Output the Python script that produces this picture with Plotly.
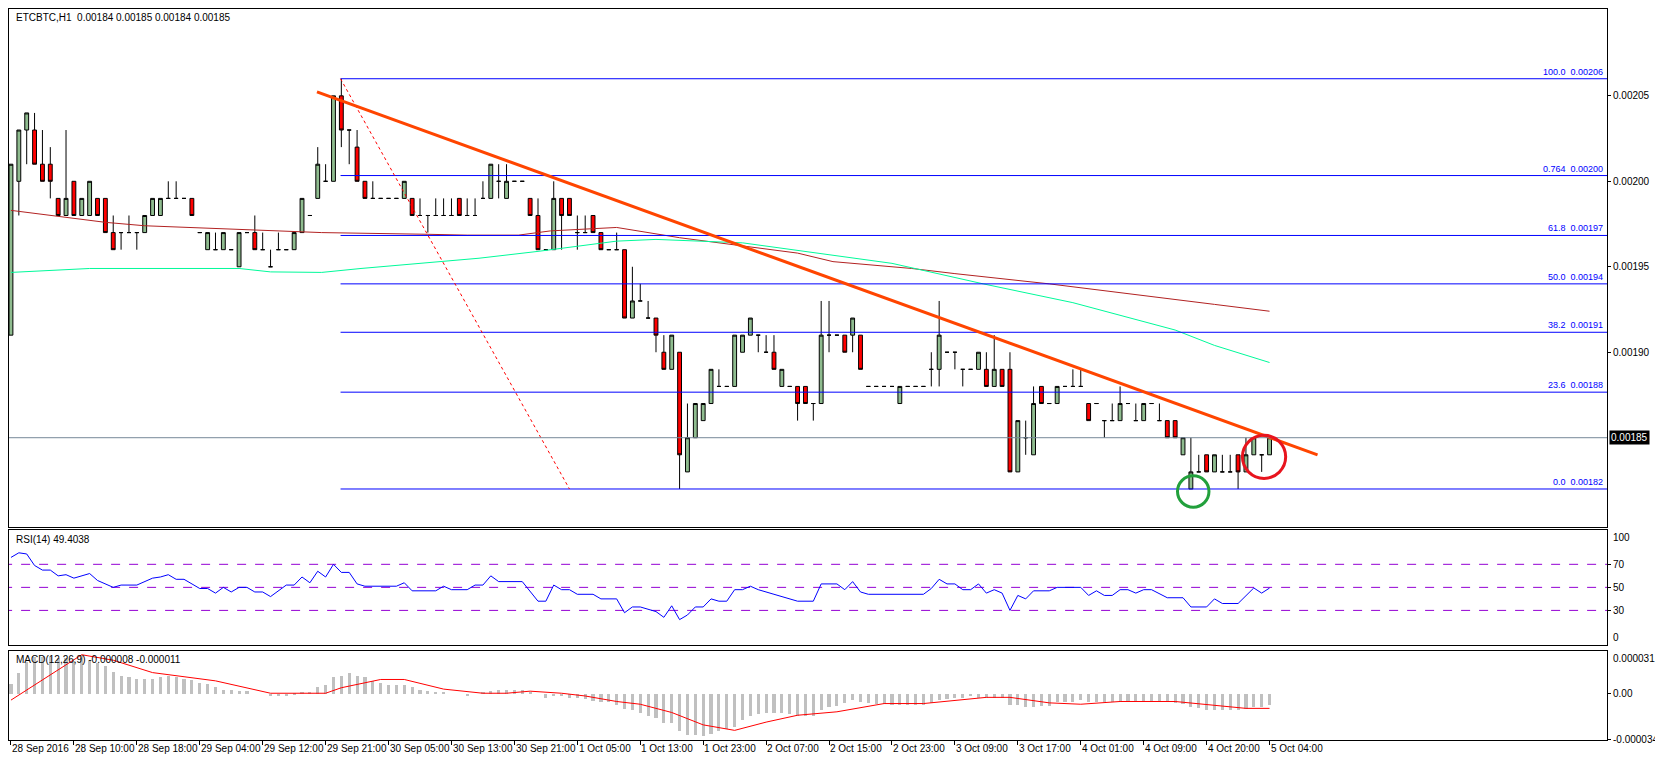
import plotly.graph_objects as go
from plotly.subplots import make_subplots

U = 1e-5  # prices below are in units of 0.00001 BTC

opens = [191, 200, 203, 203, 201, 201, 199, 198, 200, 198, 198, 199, 199, 197, 197, 197, 197, 197, 198, 198,
         199, 199, 199, 199, 197, 196, 196, 196, 196, 195, 197, 197, 196, 195, 196, 196, 196, 197, 198, 199,
         200, 200, 205, 203, 202, 200, 199, 199, 199, 199, 199, 199, 198, 198, 198, 198, 198, 199, 198, 198,
         199, 199, 200, 199, 200, 200, 199, 198, 196, 196, 199, 199, 197, 197, 198, 197, 196, 196, 196, 192,
         193, 192, 192, 190, 189, 190, 183, 185, 186, 187, 188, 188, 188, 190, 191, 191, 190, 190, 188, 188,
         188, 188, 187, 187, 191, 191, 191, 191, 191, 188, 188, 188, 188, 187, 188, 188, 188, 189, 189, 190,
         190, 189, 189, 189, 189, 188, 189, 189, 183, 185, 184, 188, 187, 187, 188, 188, 188, 187, 187, 186,
         186, 186, 187, 186, 186, 187, 186, 186, 186, 184, 182, 183, 184, 183, 183, 183, 184, 183, 184, 184,
         184]
highs = [201, 203, 204, 204, 203, 202, 199, 203, 200, 199, 200, 199, 199, 198, 197, 198, 197, 198, 199, 199,
         200, 200, 199, 199, 197, 197, 197, 197, 196, 197, 197, 198, 197, 196, 197, 196, 197, 199, 198, 202,
         201, 205, 206, 203, 203, 200, 200, 199, 199, 199, 200, 199, 199, 198, 199, 199, 199, 199, 199, 199,
         200, 201, 201, 201, 200, 200, 199, 199, 196, 200, 199, 199, 198, 198, 198, 197, 196, 197, 196, 195,
         194, 193, 192, 191, 191, 190, 187, 187, 187, 189, 189, 188, 191, 191, 192, 191, 191, 191, 189, 188,
         188, 188, 187, 193, 193, 191, 191, 192, 191, 188, 188, 188, 188, 188, 188, 188, 188, 190, 193, 190,
         190, 189, 189, 190, 190, 191, 189, 190, 186, 186, 188, 188, 187, 188, 188, 189, 189, 187, 187, 186,
         187, 188, 187, 187, 187, 187, 187, 186, 186, 185, 185, 184, 184, 184, 184, 184, 184, 185, 185, 184,
         185]
lows = [191, 198, 201, 201, 200, 199, 198, 198, 198, 198, 198, 198, 197, 196, 196, 197, 196, 197, 198, 198,
        199, 199, 199, 198, 197, 196, 196, 196, 196, 195, 197, 196, 196, 195, 196, 196, 196, 197, 198, 199,
        200, 200, 202, 201, 200, 199, 199, 199, 199, 199, 199, 198, 198, 197, 198, 198, 198, 198, 198, 198,
        199, 199, 199, 199, 200, 200, 198, 196, 196, 196, 196, 198, 196, 197, 197, 196, 196, 196, 192, 192,
        193, 192, 190, 189, 189, 182, 183, 185, 186, 187, 188, 188, 188, 190, 191, 190, 190, 189, 188, 188,
        186, 187, 186, 187, 190, 191, 190, 190, 189, 188, 188, 188, 188, 187, 188, 188, 188, 188, 188, 190,
        189, 188, 189, 189, 188, 188, 188, 183, 183, 184, 184, 187, 187, 187, 188, 188, 188, 186, 187, 185,
        186, 186, 187, 186, 186, 187, 186, 185, 185, 184, 182, 183, 183, 183, 183, 183, 182, 183, 184, 183,
        184]
closes = [201, 203, 204, 201, 200, 200, 198, 199, 198, 199, 200, 198, 197, 196, 197, 197, 197, 198, 199, 199,
          199, 199, 199, 198, 197, 197, 196, 197, 196, 197, 197, 196, 196, 195, 196, 196, 197, 199, 198, 201,
          200, 205, 203, 203, 200, 199, 199, 199, 199, 199, 200, 198, 198, 198, 198, 198, 198, 198, 198, 198,
          199, 201, 200, 200, 200, 200, 198, 196, 196, 199, 198, 198, 197, 197, 197, 196, 196, 196, 192, 193,
          193, 192, 191, 189, 191, 184, 185, 187, 187, 189, 188, 188, 191, 191, 192, 191, 190, 189, 189, 188,
          187, 187, 187, 191, 191, 191, 190, 192, 189, 188, 188, 188, 188, 188, 188, 188, 188, 189, 191, 190,
          190, 189, 189, 190, 188, 189, 188, 183, 186, 185, 187, 187, 187, 188, 188, 188, 188, 186, 187, 186,
          186, 187, 187, 186, 187, 187, 186, 185, 185, 185, 183, 183, 183, 184, 183, 183, 183, 184, 185, 184,
          185]

time_labels = ["28 Sep 2016", "28 Sep 10:00", "28 Sep 18:00", "29 Sep 04:00", "29 Sep 12:00", "29 Sep 21:00",
               "30 Sep 05:00", "30 Sep 13:00", "30 Sep 21:00", "1 Oct 05:00", "1 Oct 13:00", "1 Oct 23:00",
               "2 Oct 07:00", "2 Oct 15:00", "2 Oct 23:00", "3 Oct 09:00", "3 Oct 17:00", "4 Oct 01:00",
               "4 Oct 09:00", "4 Oct 20:00", "5 Oct 04:00"]

# moving averages (vertices)
ma_red_x = [0, 12, 17, 29, 39.5, 53, 58, 64.5, 68.6, 77, 85, 100, 104.5, 114.5, 120, 132, 141, 153, 160]
ma_red_y = [198.3, 197.6, 197.4, 197.2, 197.0, 196.9, 196.85, 196.85, 197.1, 197.3, 196.7, 195.8, 195.3,
            194.9, 194.6, 194.0, 193.5, 192.8, 192.4]
ma_green_x = [0, 5, 10, 29, 33, 39.5, 44.5, 52, 59.5, 67, 72, 77, 82, 93, 112, 123.6, 135, 148, 153, 160]
ma_green_y = [194.67, 194.8, 194.9, 194.9, 194.7, 194.67, 194.9, 195.2, 195.5, 195.9, 196.2, 196.5, 196.6,
              196.4, 195.2, 194.0, 192.9, 191.3, 190.4, 189.4]

fib_names = ["100.0", "0.764", "61.8", "50.0", "38.2", "23.6", "0.0"]
fib_ratio = [1.0, 0.764, 0.618, 0.5, 0.382, 0.236, 0.0]
fib_low, fib_high = 182, 206

rsi_x = [0, 1, 2, 3, 4, 5, 6, 7, 8, 10, 11, 13, 14, 16, 18, 19, 20, 21, 22, 24, 25, 26, 27, 28, 29, 30, 31, 32,
         33, 35, 36, 37, 38, 39, 40, 41, 42, 43, 44, 45, 49, 50, 51, 54, 55, 56, 58, 59, 60, 61, 62, 65, 67, 68,
         69, 70, 71, 72, 74, 75, 77, 78, 79, 80, 82, 83, 84, 85, 86, 87, 88, 89, 90, 91, 92, 93, 94, 95, 97, 98,
         100, 102, 103, 105, 106, 107, 108, 109, 116, 117, 118, 119, 120, 121, 122, 123, 124, 125, 126, 127,
         128, 129, 130, 132, 133, 136, 137, 138, 139, 140, 141, 142, 143, 144, 145, 147, 149, 150, 152, 153,
         154, 156, 157, 158, 159, 160]
rsi_y = [76, 80, 79, 69, 65, 65, 60, 61, 58, 62, 56, 50, 52, 52, 58, 59, 61, 57, 57, 49, 49, 45, 50, 46, 50, 50,
         46, 46, 42, 52, 52, 59, 54, 64, 59, 70, 63, 63, 53, 51, 51, 54, 47, 47, 51, 48, 48, 52, 52, 60, 55, 55,
         38, 38, 52, 48, 48, 44, 44, 40, 40, 28, 33, 33, 29, 24, 34, 22, 26, 33, 33, 40, 38, 38, 48, 48, 51, 48,
         44, 42, 38, 38, 53, 53, 48, 55, 46, 44, 44, 49, 57, 53, 53, 48, 48, 53, 45, 48, 45, 30, 43, 40, 47, 47,
         50, 50, 43, 47, 43, 43, 48, 48, 45, 48, 48, 41, 41, 33, 33, 40, 36, 36, 43, 49.5, 45, 49.4038]

# MACD main (histogram) and signal, in units of 1e-6
macd_hist = [7, 15, 23, 27, 27, 27, 26, 26, 24, 28, 24, 22, 20, 16, 13, 12, 11, 11, 11, 12,
             13, 12, 11, 10, 8, 7, 5, 3, 3, 2, 2, 0, 0, -2, -2, -2, -1, 1, 1, 5,
             6, 12, 13, 15, 13, 12, 9, 8, 6.5, 6, 6.5, 5, 3, 2, 1.5, 1, 0, 0, -1.5, 0,
             1.5, 2, 3, 3, 3, 3, 1.5, 0, -3, -2, -2, -3, -3, -4, -5, -6, -6, -8, -11, -12,
             -14, -16, -18, -21, -21, -27, -30, -30, -31, -29, -27, -26, -24, -19, -16, -15, -14, -14, -14, -15,
             -16, -16, -16, -12, -10, -9, -7, -4.5, -6, -7, -7.5, -7.5, -8, -8, -8, -8, -8, -7, -4.5, -4,
             -3, -3, -2, -3, -3, -3, -3, -8.5, -8.5, -10, -10, -9, -9, -6, -6, -6, -4.5, -6, -6, -6,
             -6, -6, -6, -6, -6, -6, -6, -6, -7, -7.5, -9.5, -10.5, -12, -12, -12, -12, -12, -11, -10, -9.5, -8]
sig_x = [0, 8, 9, 13, 18, 22, 26, 33, 36, 40, 42, 47, 50, 55, 60, 63, 66, 70, 73, 77, 80, 84, 88, 92, 96, 100,
         105, 111, 116, 124, 127, 132, 136, 141, 148, 153, 155, 157, 160]
sig_y = [-5, 24, 28, 24, 15, 12, 9, 0, 0, 0, 4, 10, 10, 3, 0, 0, 1.5, 0, -2, -6, -8, -14, -23, -27, -21, -16,
         -13.5, -7.5, -7.5, -3, -3, -7, -8, -6, -6, -9, -10, -11, -11]

bars = list(range(len(closes)))
FONT = "Liberation Sans"

fig = make_subplots(rows=3, cols=1, shared_xaxes=True, vertical_spacing=0.004)

fig.add_trace(go.Candlestick(
    x=bars, open=[v * U for v in opens], high=[v * U for v in highs],
    low=[v * U for v in lows], close=[v * U for v in closes],
    increasing=dict(fillcolor="#8FBC8F", line=dict(color="black", width=1)),
    decreasing=dict(fillcolor="#FF0000", line=dict(color="black", width=1)),
    whiskerwidth=0, hoverinfo="skip"), row=1, col=1)

fig.add_trace(go.Scatter(x=ma_red_x, y=[v * U for v in ma_red_y], mode="lines",
                         line=dict(color="#B22222", width=1)), row=1, col=1)
fig.add_trace(go.Scatter(x=ma_green_x, y=[v * U for v in ma_green_y], mode="lines",
                         line=dict(color="#00FA9A", width=1)), row=1, col=1)

XMAX = 202.9
# fibonacci levels
for name, r in zip(fib_names, fib_ratio):
    lvl = (fib_low + r * (fib_high - fib_low)) * U
    fig.add_trace(go.Scatter(x=[41.9, XMAX], y=[lvl, lvl], mode="lines",
                             line=dict(color="#0000FF", width=1)), row=1, col=1)
    fig.add_annotation(x=XMAX - 0.3, y=lvl, xref="x", yref="y", text=f"{name}  {lvl:.5f}",
                       showarrow=False, xanchor="right", yanchor="bottom",
                       font=dict(family=FONT, size=9, color="#0000FF"))

# dotted fib connector and trend line
fig.add_trace(go.Scatter(x=[41.9, 71], y=[fib_high * U, fib_low * U], mode="lines",
                         line=dict(color="#FF0000", width=1, dash="dot")), row=1, col=1)
fig.add_trace(go.Scatter(x=[38.9, 166.1], y=[205.23 * U, 184.0 * U], mode="lines",
                         line=dict(color="#FF4500", width=3)), row=1, col=1)

# current price line
last = closes[-1] * U
fig.add_trace(go.Scatter(x=[-1, XMAX + 1], y=[last, last], mode="lines",
                         line=dict(color="#778899", width=1)), row=1, col=1)
fig.add_annotation(x=1.0, y=last, xref="paper", yref="y", text=f"{last:.5f}", showarrow=False,
                   xanchor="left", xshift=2, bgcolor="black", font=dict(family=FONT, size=10, color="white"),
                   borderpad=1)

fig.add_shape(type="circle", xref="x", yref="y", x0=156.55, x1=162.05, y0=182.62 * U, y1=185.14 * U,
              line=dict(color="#E8141E", width=3))
fig.add_shape(type="circle", xref="x", yref="y", x0=148.3, x1=152.3, y0=180.93 * U, y1=182.77 * U,
              line=dict(color="#22A03C", width=3))

# RSI
for lv in [30, 50, 70]:
    fig.add_trace(go.Scatter(x=[-1, XMAX + 1], y=[lv, lv], mode="lines",
                             line=dict(color="#9400D3", width=1, dash="dash")), row=2, col=1)
fig.add_trace(go.Scatter(x=rsi_x, y=rsi_y, mode="lines", line=dict(color="#0000FF", width=1)), row=2, col=1)

# MACD
fig.add_trace(go.Bar(x=bars, y=[v * 1e-6 for v in macd_hist], marker_color="#C0C0C0", width=0.4,
                     marker_line_width=0), row=3, col=1)
fig.add_trace(go.Scatter(x=sig_x, y=[v * 1e-6 for v in sig_y], mode="lines",
                         line=dict(color="#FF0000", width=1)), row=3, col=1)

# titles inside panels
fig.add_annotation(x=0.003, y=0.999, xref="paper", yref="paper", text="ETCBTC,H1  0.00184 0.00185 0.00184 0.00185",
                   showarrow=False, xanchor="left", yanchor="top", font=dict(family=FONT, size=10, color="black"))
fig.add_annotation(x=0.003, y=0.284, xref="paper", yref="paper", text="RSI(14) 49.4038",
                   showarrow=False, xanchor="left", yanchor="top", font=dict(family=FONT, size=10, color="black"))
fig.add_annotation(x=0.003, y=0.120, xref="paper", yref="paper", text="MACD(12,26,9) -0.000008 -0.000011",
                   showarrow=False, xanchor="left", yanchor="top", font=dict(family=FONT, size=10, color="black"))

# edge labels of the indicator scales, kept inside their panels
edge_labels = [("100", 100, "y2", "top"), ("0", 0, "y2", "bottom"), ("0.000031", 0.000031, "y3", "top")]
for txt, val, ref, anchor in edge_labels:
    fig.add_annotation(x=1.0, y=val, xref="paper", yref=ref, text=txt, showarrow=False, xanchor="left",
                       yanchor=anchor, xshift=4, font=dict(family=FONT, size=10, color="black"))

# time labels under the bottom panel, left-aligned at their tick
for i, lab in enumerate(time_labels):
    fig.add_annotation(x=i * 8 - 0.1, y=0, xref="x3", yref="paper", text=lab, showarrow=False,
                       xanchor="left", yanchor="top", yshift=-1,
                       font=dict(family=FONT, size=10, color="black"))

axis_common = dict(showline=True, linecolor="black", linewidth=1, mirror=True, showgrid=False, zeroline=False)
fig.update_xaxes(range=[-0.25, XMAX], showticklabels=False, ticks="", **axis_common)
fig.update_xaxes(ticks="outside", ticklen=4, tickcolor="black", tickvals=[i * 8 for i in range(21)], row=3, col=1)
fig.update_xaxes(rangeslider_visible=False, row=1, col=1)

tickfont = dict(family=FONT, size=10, color="black")
fig.update_yaxes(side="right", ticks="outside", ticklen=3, tickcolor="black", tickfont=tickfont, **axis_common)
fig.update_yaxes(domain=[0.2917, 1.0], range=[179.79 * U, 210.08 * U],
                 tickvals=[0.0019, 0.00195, 0.002, 0.00205], tickformat=".5f", row=1, col=1)
fig.update_yaxes(domain=[0.13, 0.2876], range=[0, 100], tickvals=[30, 50, 70], row=2, col=1)
fig.update_yaxes(domain=[0.0, 0.1223], range=[-0.000034, 0.000031], tickvals=[-0.000034, 0],
                 ticktext=["-0.000034", "0.00"], row=3, col=1)

fig.update_layout(width=1650, height=750, margin=dict(l=0, r=44, t=0, b=18), showlegend=False,
                  plot_bgcolor="white", paper_bgcolor="white", bargap=0, font=dict(family=FONT))

fig.write_html("out.html")
